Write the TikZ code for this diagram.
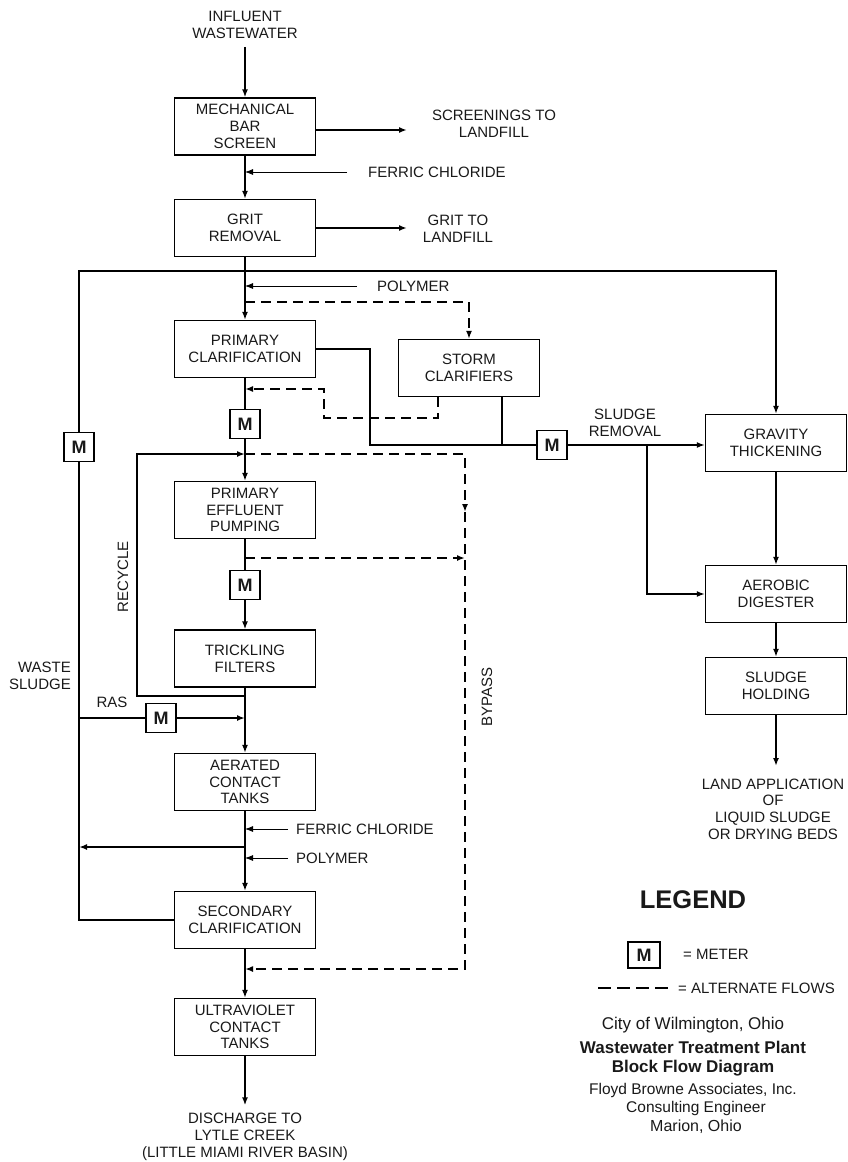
\documentclass[tikz,border=0pt]{standalone}
\usepackage{fontspec}
\setmainfont{Liberation Sans}
\usetikzlibrary{arrows.meta}

\begin{document}
\begin{tikzpicture}[x=1pt, y=-1pt,
  every node/.style={font=\fontsize{15}{16.7}\selectfont, text=black!90, align=center, inner sep=0pt},
  box/.style={draw, line width=1.3pt, minimum width=141pt, minimum height=57pt},
  meter/.style={draw, line width=1.3pt, minimum width=30pt, minimum height=29pt, font=\bfseries\fontsize{18}{18}\selectfont},
  main/.style={line width=2.3pt},
  flow/.style={line width=1.7pt},
  feed/.style={line width=0.8pt},
  alt/.style={line width=1.9pt, dash pattern=on 10pt off 6pt},
  >={Latex[length=8pt,width=6pt]}]
  \useasboundingbox (0,0) rectangle (848,1162);

  % process boxes
  \node[box] (screen)    at (245,126.5) {MECHANICAL\\BAR\\SCREEN};
  \node[box] (grit)      at (245,228)   {GRIT\\REMOVAL};
  \node[box] (primary)   at (245,349)   {PRIMARY\\CLARIFICATION};
  \node[box] (storm)     at (469,368)   {STORM\\CLARIFIERS};
  \node[box] (pumping)   at (245,510)   {PRIMARY\\EFFLUENT\\PUMPING};
  \node[box] (trickling) at (245,658.5) {TRICKLING\\FILTERS};
  \node[box] (aerated)   at (245,782)   {AERATED\\CONTACT\\TANKS};
  \node[box] (secondary) at (245,920)   {SECONDARY\\CLARIFICATION};
  \node[box] (uv)        at (245,1027)  {ULTRAVIOLET\\CONTACT\\TANKS};
  \node[box] (gravity)   at (776,443)   {GRAVITY\\THICKENING};
  \node[box] (digester)  at (776,594)   {AEROBIC\\DIGESTER};
  \node[box] (holding)   at (776,686)   {SLUDGE\\HOLDING};

  % meters
  \node[meter] (mprim)   at (245,424) {M};
  \node[meter] (mwaste)  at (79,447)  {M};
  \node[meter] (msludge) at (552,445) {M};
  \node[meter] (mpump)   at (245,585) {M};
  \node[meter] (mras)    at (161,718) {M};

  % labels
  \node (influent) at (245,25) {INFLUENT\\WASTEWATER};
  \node (screenings) at (494,124) {SCREENINGS TO\\LANDFILL};
  \node[anchor=west] (ferric1) at (368,172) {FERRIC CHLORIDE};
  \node (grittxt) at (458,229) {GRIT TO\\LANDFILL};
  \node[anchor=west] (polymer1) at (377,286) {POLYMER};
  \node (removal) at (625,423) {SLUDGE\\REMOVAL};
  \node[rotate=90] (recycle) at (123,577) {RECYCLE};
  \node[rotate=90] (bypass) at (487,697) {BYPASS};
  \node[anchor=east, align=right] (waste) at (71,676) {WASTE\\SLUDGE};
  \node (ras) at (112,702) {RAS};
  \node[anchor=west] (ferric2) at (296,829) {FERRIC CHLORIDE};
  \node[anchor=west] (polymer2) at (296,858) {POLYMER};
  \node (discharge) at (245,1137) {DISCHARGE TO\\LYTLE CREEK\\(LITTLE MIAMI RIVER BASIN)};
  \node (land) at (773,809) {LAND APPLICATION\\OF\\LIQUID SLUDGE\\OR DRYING BEDS};

  % junctions
  \coordinate (scrend) at (407,130);
  \coordinate (gritend) at (407,228);
  \coordinate (wcorner) at (79,271);
  \coordinate (stormsplit) at (245,302);
  \coordinate (pcorner) at (370,445);
  \coordinate (stormout) at ([xshift=33pt]storm.south);
  \coordinate (stormret) at ([xshift=-31pt]storm.south);
  \coordinate (retcorner) at (324,418);
  \coordinate (retin) at (245,389);
  \coordinate (ssplit) at (647,445);
  \coordinate (rin) at (245,454);
  \coordinate (rsplit) at (245,696);
  \coordinate (rcorner) at (137,454);
  \coordinate (bptop) at (465,454);
  \coordinate (bpmid) at (465,512);
  \coordinate (bpbot) at (465,969);
  \coordinate (bpin) at (245,969);
  \coordinate (psplit) at (245,558);
  \coordinate (rasin) at (245,718);
  \coordinate (wsplit) at (245,847);
  \coordinate (landin) at (776,766);

  % liquid train
  \draw[main,->] ([yshift=-8pt]influent.south) -- (screen.north);
  \draw[flow,->] (screen.east |- scrend) -- (scrend);
  \draw[feed,->] ([xshift=-21pt]ferric1.west) -- (screen.south |- ferric1.west);
  \draw[main,->] (screen) -- (grit);
  \draw[flow,->] (grit.east) -- (gritend);
  \draw[main,->] (grit) -- (primary);
  \draw[feed,->] ([xshift=-20pt]polymer1.west) -- (grit.south |- polymer1.west);
  \draw[alt,->] (stormsplit) -| (storm.north);
  \draw[alt,->] (stormret) |- (retcorner) |- (retin);
  \draw[main] (primary) -- (mprim);
  \draw[main,->] (mprim) -- (pumping);
  \draw[flow,->] (rsplit) -| (rcorner) -- (rin);
  \draw[alt,->] (rin) -- (bptop) -- (bpmid);
  \draw[alt,->] (bpmid) -- (bpbot) -- (bpin);
  \draw[alt,->] (psplit) -- (psplit -| bptop);
  \draw[main] (pumping) -- (mpump);
  \draw[main,->] (mpump) -- (trickling);
  \draw[flow] (mras.west -| mwaste) -- (mras.west);
  \draw[flow,->] (mras.east) -- (rasin);
  \draw[main,->] (trickling) -- (aerated);
  \draw[feed,->] ([xshift=-8pt]ferric2.west) -- (aerated.south |- ferric2.west);
  \draw[feed,->] ([xshift=-8pt]polymer2.west) -- (aerated.south |- polymer2.west);
  \draw[flow,->] (wsplit) -- (wsplit -| mwaste);
  \draw[main,->] (aerated) -- (secondary);
  \draw[main,->] (secondary) -- (uv);
  \draw[main,->] (uv) -- ([yshift=8pt]discharge.north);

  % sludge train
  \draw[flow] (secondary.west) -| (mwaste.south);
  \draw[flow,->] (mwaste.north) -- (wcorner) -| (gravity.north);
  \draw[flow] (primary.east) -| (pcorner) -- (msludge.west);
  \draw[flow] (stormout) -- (stormout |- msludge.west);
  \draw[flow,->] (msludge.east) -- (msludge.east -| gravity.west);
  \draw[flow,->] (ssplit) |- (digester.west);
  \draw[flow,->] (gravity) -- (digester);
  \draw[flow,->] (digester) -- (holding);
  \draw[flow,->] (holding.south) -- (landin);

  % legend
  \node[font=\bfseries\fontsize{25.5}{26}\selectfont] (legend) at (693,900) {LEGEND};
  \node[meter, minimum width=32pt, minimum height=26pt] (mkey) at (644,955) {M};
  \node[anchor=west] (meterkey) at (683,954) {= METER};
  \node[anchor=west] (altkey) at (678,988) {= ALTERNATE FLOWS};
  \coordinate (altstart) at (598,988);
  \draw[alt, dash pattern=on 13pt off 6pt] (altstart) -- ([xshift=-10pt]altkey.west);

  % title block
  \node[font=\fontsize{17}{18}\selectfont] (city) at (693,1025) {City of Wilmington, Ohio};
  \node[font=\bfseries\fontsize{17}{18}\selectfont] (plant) at (693,1047) {Wastewater Treatment Plant};
  \node[font=\bfseries\fontsize{17}{18}\selectfont] (blockflow) at (693,1068) {Block Flow Diagram};
  \node[font=\fontsize{15.5}{16}\selectfont] (firm) at (693,1090) {Floyd Browne Associates, Inc.};
  \node[font=\fontsize{15.5}{16}\selectfont] (engineer) at (696,1108) {Consulting Engineer};
  \node[font=\fontsize{16}{16}\selectfont] (marion) at (696,1127) {Marion, Ohio};
\end{tikzpicture}
\end{document}
